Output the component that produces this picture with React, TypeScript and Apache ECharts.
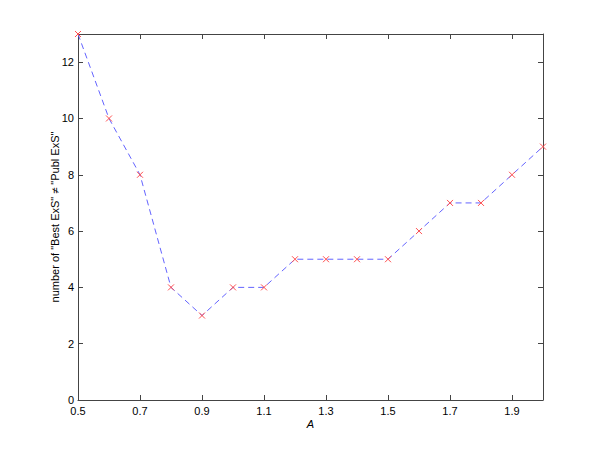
import React, { useEffect, useRef } from "react";
import * as echarts from "echarts";

const X0 = 0.5;
const xValues = [0.5, 0.6, 0.7, 0.8, 0.9, 1.0, 1.1, 1.2, 1.3, 1.4, 1.5, 1.6, 1.7, 1.8, 1.9, 2.0];
const yValues = [13, 10, 8, 4, 3, 4, 4, 5, 5, 5, 5, 6, 7, 7, 8, 9];
const xTitle = "A";
const yTitle = 'number of "Best ExS" \u2260 "Publ ExS"';

const FONT = "'Liberation Sans', Arial, Helvetica, sans-serif";
const AXIS_COLOR = "#444";

export default function App() {
  const ref = useRef<HTMLDivElement>(null);
  useEffect(() => {
    document.body.style.margin = "0";
    const chart = echarts.init(ref.current!, null, { renderer: "svg" });
    const xAxisBase = {
      type: "value" as const,
      min: 0,
      max: 1.5,
      interval: 0.2,
      axisLine: { show: true, onZero: false, lineStyle: { color: AXIS_COLOR, width: 1 } },
      axisTick: { show: true, inside: true, length: 5, lineStyle: { color: AXIS_COLOR } },
      splitLine: { show: false },
    };
    const yAxisBase = {
      type: "value" as const,
      min: 0,
      max: 13,
      interval: 2,
      axisLine: { show: true, onZero: false, lineStyle: { color: AXIS_COLOR, width: 1 } },
      axisTick: { show: true, inside: true, length: 5, lineStyle: { color: AXIS_COLOR } },
      splitLine: { show: false },
    };
    chart.setOption({
      animation: false,
      backgroundColor: "#fff",
      grid: { left: 78, right: 57, top: 34, bottom: 50, containLabel: false },
      xAxis: [
        {
          ...xAxisBase,
          position: "bottom",
          name: xTitle,
          nameLocation: "middle",
          nameGap: 18,
          nameMoveOverlap: false,
          nameTextStyle: { fontFamily: FONT, fontSize: 11, fontStyle: "italic", color: "#000" },
          axisLabel: {
            show: true,
            margin: 5,
            fontFamily: FONT,
            fontSize: 11,
            color: "#000",
            showMaxLabel: false,
            formatter: (v: number) => (v + X0).toFixed(1),
          },
        },
        {
          ...xAxisBase,
          position: "top",
          axisLabel: { show: false },
        },
      ],
      yAxis: [
        {
          ...yAxisBase,
          position: "left",
          name: yTitle,
          nameLocation: "middle",
          nameGap: 18,
          nameMoveOverlap: false,
          nameTextStyle: { fontFamily: FONT, fontSize: 11, color: "#000" },
          axisLabel: {
            show: true,
            margin: 4,
            fontFamily: FONT,
            fontSize: 11,
            color: "#000",
            showMaxLabel: false,
          },
        },
        {
          ...yAxisBase,
          position: "right",
          axisLabel: { show: false },
        },
      ],
      series: [
        {
          type: "line",
          xAxisIndex: 0,
          yAxisIndex: 0,
          data: xValues.map((x, i) => [x - X0, yValues[i]]),
          lineStyle: { color: "#6464ff", width: 1, type: [6, 4] },
          symbol: "path://M0,0L10,10M10,0L0,10",
          symbolSize: 6,
          showSymbol: true,
          itemStyle: { color: "none", borderColor: "#ff5050", borderWidth: 1 },
          clip: false,
        },
      ],
    });
    return () => chart.dispose();
  }, []);
  return <div ref={ref} style={{ width: 600, height: 450 }} />;
}
